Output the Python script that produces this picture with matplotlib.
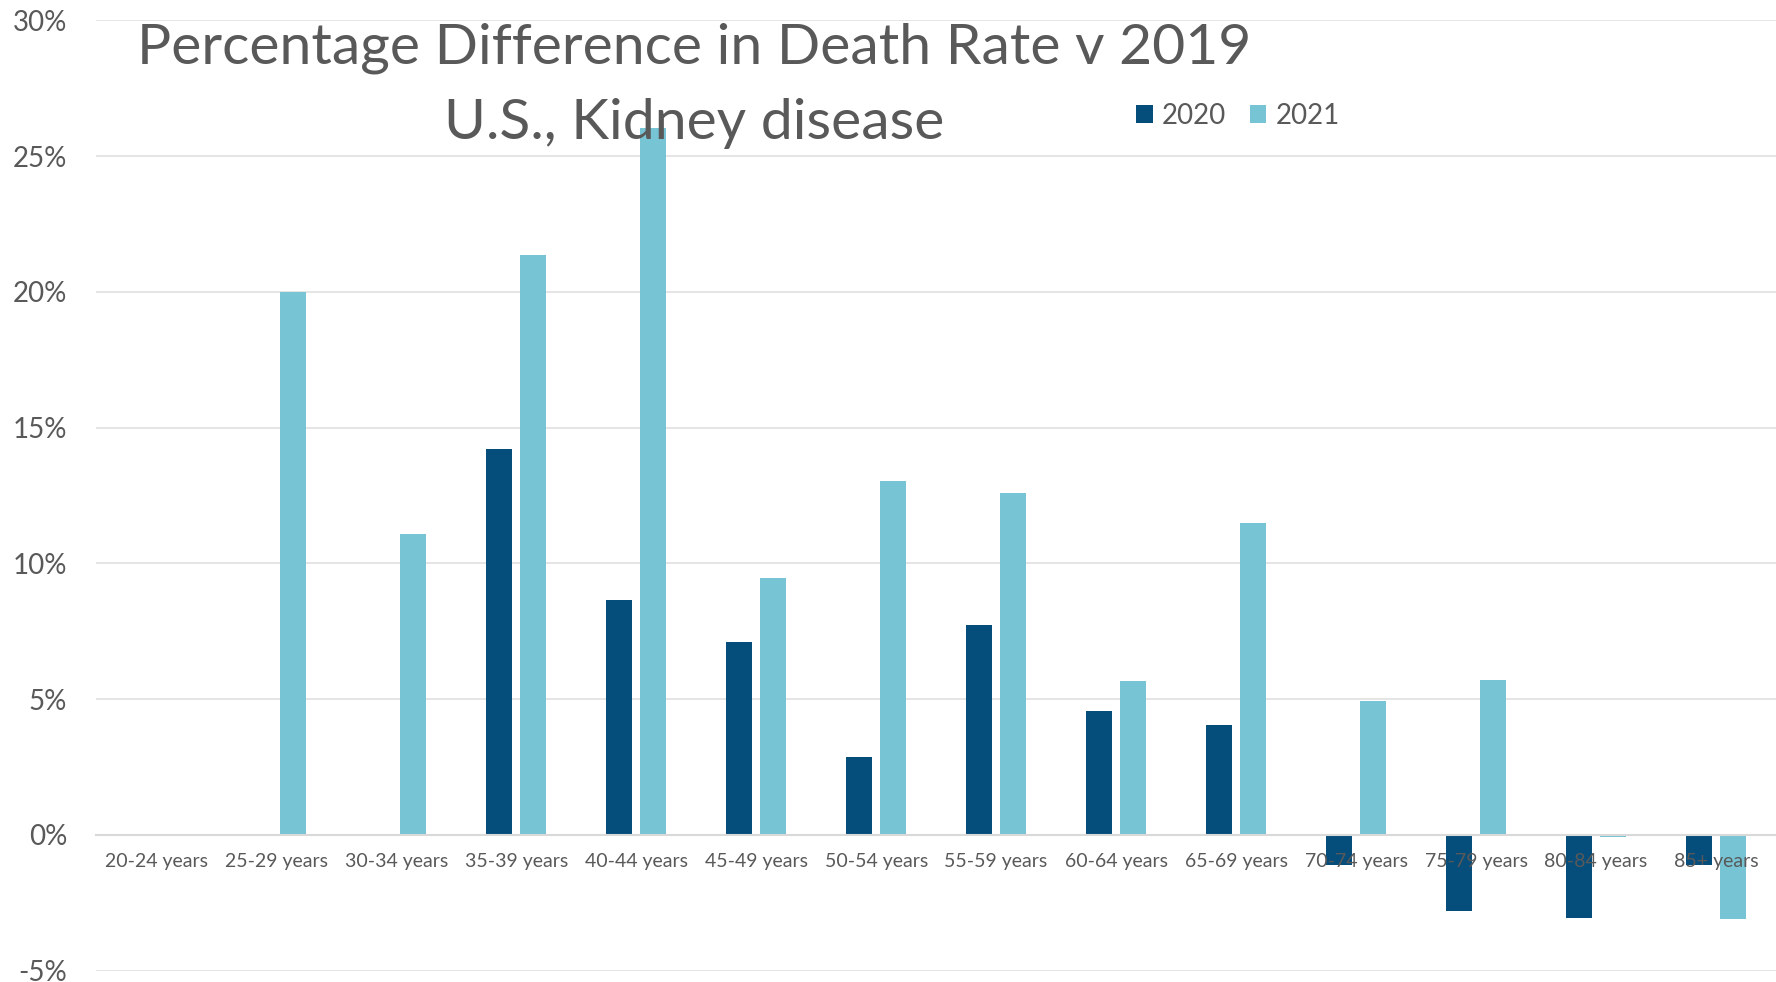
import matplotlib
matplotlib.use("Agg")
import matplotlib.pyplot as plt
import numpy as np

# Werte (Prozent)
categories = ["20-24 years", "25-29 years", "30-34 years", "35-39 years", "40-44 years",
              "45-49 years", "50-54 years", "55-59 years", "60-64 years", "65-69 years",
              "70-74 years", "75-79 years", "80-84 years", "85+ years"]
values_2020 = [0.0, 0.0, 0.0, 14.23, 8.64, 7.10, 2.88, 7.72, 4.55, 4.05, -1.10, -2.80, -3.07, -1.10]
values_2021 = [0.0, 20.0, 11.10, 21.37, 26.04, 9.47, 13.02, 12.60, 5.68, 11.48, 4.92, 5.72, -0.06, -3.10]
series_names = ["2020", "2021"]
yticks = [-5, 0, 5, 10, 15, 20, 25, 30]

color_2020 = "#054D7B"
color_2021 = "#77C4D5"
text_color = "#595959"
grid_color = "#E0E0E0"

plt.rcParams['font.family'] = ['Lato', 'DejaVu Sans']

fig = plt.figure(figsize=(17.76, 9.82), dpi=100)
ax = fig.add_axes([0.0542, 0.0115, 0.9458, 0.9677])

x = np.arange(len(categories))
w = 0.217
off = 0.1415
ax.bar(x - off, values_2020, w, color=color_2020, label=series_names[0], zorder=1)
ax.bar(x + off, values_2021, w, color=color_2021, label=series_names[1], zorder=1)

# Gitterlinien hinter den Balken
for t in yticks:
    if t != 0:
        ax.axhline(t, color=grid_color, lw=1.2, zorder=0)

# x-Achse auf 0 legen (vor den Tick-Labels, sonst werden sie zurückgesetzt)
ax.spines['bottom'].set_position(('data', 0))
ax.spines['bottom'].set_color("#D9D9D9")
ax.spines['bottom'].set_linewidth(1.5)
ax.spines['bottom'].set_zorder(3)
for s in ['top', 'right', 'left']:
    ax.spines[s].set_visible(False)

ax.set_xlim(-0.5, len(categories) - 0.5)
ax.set_ylim(-5, 30)
ax.set_yticks(yticks)
ax.set_yticklabels([f"{t}%" for t in yticks])
ax.set_xticks(x)
ax.set_xticklabels(categories)
ax.tick_params(axis='both', length=0, labelcolor=text_color)
ax.tick_params(axis='y', pad=21, labelsize=20)
ax.tick_params(axis='x', pad=13, labelsize=14)
# Beschriftungen liegen im Original über den Balken
ax.xaxis.set_zorder(3)

fig.text(0.391, 0.951, "Percentage Difference in Death Rate v 2019", ha='center', va='center',
         fontsize=41, color=text_color)
fig.text(0.391, 0.874, "U.S., Kidney disease", ha='center', va='center',
         fontsize=41, color=text_color)

fig.legend(loc='center left', bbox_to_anchor=(0.6397, 0.882), ncol=2, frameon=False,
           fontsize=20, handlelength=0.6, handleheight=0.6, handletextpad=0.33,
           columnspacing=0.85, borderpad=0, borderaxespad=0, labelcolor=text_color)

fig.savefig("out.png", dpi=100)
